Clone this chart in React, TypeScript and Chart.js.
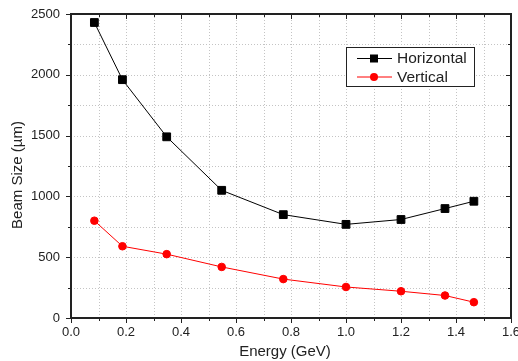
import React, { useEffect, useRef } from "react";
import { Chart, registerables } from "chart.js";

Chart.register(...registerables);

const energy = [0.085, 0.187, 0.348, 0.548, 0.772, 1.0, 1.2, 1.36, 1.465];
const horizontal = [2430, 1960, 1490, 1050, 850, 770, 810, 900, 960];
const vertical = [800, 590, 525, 420, 320, 255, 220, 185, 130];
const seriesNames = ["Horizontal", "Vertical"];
const xTitle = "Energy (GeV)";
const yTitle = "Beam Size (\u00b5m)";

const FONT = "'Liberation Sans', Arial, sans-serif";
const AXIS = "#222222";

const framePlugin = {
  id: "frame",
  beforeDatasetsDraw(chart: any) {
    const { ctx, chartArea: a, scales } = chart;
    const xs = scales.x, ys = scales.y;
    ctx.save();
    ctx.strokeStyle = "#c4c4c4";
    ctx.lineWidth = 1;
    ctx.setLineDash([1, 2]);
    for (let i = 1; i < 16; i++) {
      const px = Math.round(xs.getPixelForValue(i / 10)) + 0.5;
      ctx.beginPath();
      ctx.moveTo(px, a.top);
      ctx.lineTo(px, a.bottom);
      ctx.stroke();
    }
    for (let v = 250; v < 2500; v += 250) {
      const py = Math.round(ys.getPixelForValue(v)) + 0.5;
      ctx.beginPath();
      ctx.moveTo(a.left, py);
      ctx.lineTo(a.right, py);
      ctx.stroke();
    }
    ctx.setLineDash([]);
    ctx.restore();
  },
  afterDatasetsDraw(chart: any) {
    const { ctx, chartArea: a, scales } = chart;
    const xs = scales.x, ys = scales.y;
    ctx.save();
    ctx.strokeStyle = AXIS;
    ctx.lineWidth = 1;
    for (let i = 0; i <= 16; i++) {
      const px = Math.round(xs.getPixelForValue(i / 10)) + 0.5;
      const len = i % 2 === 0 ? 5 : 3;
      ctx.beginPath();
      ctx.moveTo(px, a.bottom);
      ctx.lineTo(px, a.bottom + len);
      ctx.moveTo(px, a.top);
      ctx.lineTo(px, a.top + len);
      ctx.stroke();
    }
    for (let v = 0; v <= 2500; v += 250) {
      const py = Math.round(ys.getPixelForValue(v)) + 0.5;
      const len = v % 500 === 0 ? 5 : 3;
      ctx.beginPath();
      ctx.moveTo(a.left, py);
      ctx.lineTo(a.left - len, py);
      ctx.moveTo(a.right, py);
      ctx.lineTo(a.right - len, py);
      ctx.stroke();
    }
    ctx.lineWidth = 2;
    ctx.strokeRect(a.left, a.top, a.right - a.left, a.bottom - a.top);
    ctx.restore();
  },
  afterDraw(chart: any) {
    const { ctx } = chart;
    ctx.save();
    ctx.fillStyle = AXIS;
    ctx.font = `15px ${FONT}`;
    ctx.textAlign = "center";
    ctx.textBaseline = "middle";
    ctx.fillText(xTitle, 285, 352);
    ctx.translate(18, 175);
    ctx.rotate(-Math.PI / 2);
    ctx.fillText(yTitle, 0, 0);
    ctx.restore();

    ctx.save();
    const bx = 346, by = 47, bw = 128, bh = 39;
    ctx.fillStyle = "#ffffff";
    ctx.fillRect(bx, by, bw, bh);
    ctx.strokeStyle = AXIS;
    ctx.lineWidth = 1;
    ctx.strokeRect(bx + 0.5, by + 0.5, bw, bh);
    const rows = [
      { y: 58.5, color: "#000000", shape: "rect" },
      { y: 77, color: "#ff0000", shape: "circle" },
    ];
    rows.forEach((r, i) => {
      ctx.strokeStyle = r.color;
      ctx.lineWidth = 1;
      ctx.beginPath();
      ctx.moveTo(357, r.y);
      ctx.lineTo(392, r.y);
      ctx.stroke();
      ctx.fillStyle = r.color;
      if (r.shape === "rect") {
        ctx.fillRect(374 - 4, r.y - 4, 8, 8);
      } else {
        ctx.beginPath();
        ctx.arc(374, r.y, 4, 0, Math.PI * 2);
        ctx.fill();
      }
      ctx.fillStyle = AXIS;
      ctx.font = `15.5px ${FONT}`;
      ctx.textAlign = "left";
      ctx.textBaseline = "middle";
      ctx.fillText(seriesNames[i], 397, r.y + 0.5);
    });
    ctx.restore();
  },
};

export default function App() {
  const ref = useRef<HTMLCanvasElement>(null);
  useEffect(() => {
    document.body.style.margin = "0";
    const canvas = ref.current!;
    const chart = new Chart(canvas, {
      type: "line",
      data: {
        datasets: [
          {
            label: seriesNames[0],
            data: energy.map((x, i) => ({ x, y: horizontal[i] })),
            borderColor: "#000000",
            backgroundColor: "#000000",
            borderWidth: 1,
            pointStyle: "rect",
            pointRadius: 5.5,
            pointBorderWidth: 1,
            tension: 0,
          },
          {
            label: seriesNames[1],
            data: energy.map((x, i) => ({ x, y: vertical[i] })),
            borderColor: "#ff0000",
            backgroundColor: "#ff0000",
            borderWidth: 1,
            pointStyle: "circle",
            pointRadius: 3.8,
            pointBorderWidth: 1,
            tension: 0,
          },
        ],
      },
      options: {
        responsive: false,
        animation: false,
        devicePixelRatio: 1,
        layout: { padding: { top: 14, right: 7, left: 0, bottom: 0 } },
        plugins: { legend: { display: false }, tooltip: { enabled: false } },
        scales: {
          x: {
            type: "linear",
            min: 0,
            max: 1.6,
            grid: { display: false, drawTicks: false },
            border: { display: false },
            ticks: {
              stepSize: 0.2,
              padding: 7,
              color: AXIS,
              font: { family: FONT, size: 13 },
              callback: (v: any) => Number(v).toFixed(1),
              maxRotation: 0,
              autoSkip: false,
            },
            afterFit: (s: any) => {
              s.height = 43;
              s.paddingLeft = 0;
              s.paddingRight = 0;
            },
          },
          y: {
            type: "linear",
            min: 0,
            max: 2500,
            grid: { display: false, drawTicks: false },
            border: { display: false },
            ticks: {
              stepSize: 500,
              padding: 11,
              color: AXIS,
              font: { family: FONT, size: 13 },
              callback: (v: any) => String(Math.round(Number(v))),
              autoSkip: false,
            },
            afterFit: (s: any) => {
              s.width = 71;
              s.paddingTop = 0;
              s.paddingBottom = 0;
            },
          },
        },
      },
      plugins: [framePlugin],
    });
    return () => chart.destroy();
  }, []);
  return (
    <div style={{ width: 518, height: 361 }}>
      <canvas ref={ref} width={518} height={361} style={{ display: "block" }} />
    </div>
  );
}
